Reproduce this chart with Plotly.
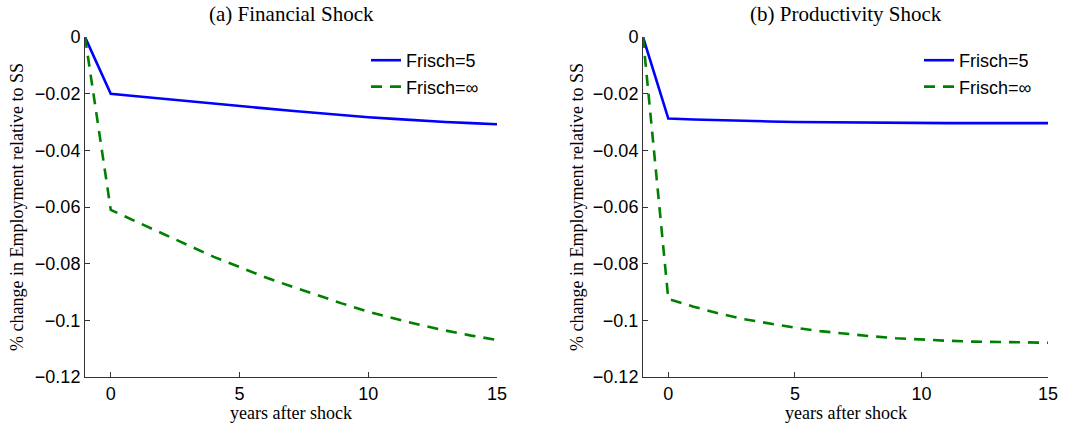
import plotly.graph_objects as go

years = list(range(-1, 16))

fin_frisch5 = [0, -0.0200, -0.0209, -0.0218, -0.0227, -0.0236, -0.0244, -0.0252, -0.0260,
               -0.0268, -0.0276, -0.0283, -0.0289, -0.0295, -0.0300, -0.0304, -0.0308]
fin_frisch_inf = [0, -0.0610, -0.0652, -0.0694, -0.0736, -0.0776, -0.0812, -0.0848, -0.0880,
                  -0.0911, -0.0941, -0.0970, -0.0994, -0.1016, -0.1036, -0.1054, -0.1069]
prod_frisch5 = [0, -0.0288, -0.0291, -0.0294, -0.0296, -0.0298, -0.0300, -0.0301, -0.0302,
                -0.0303, -0.0303, -0.0304, -0.0304, -0.0304, -0.0304, -0.0304, -0.0304]
prod_frisch_inf = [0, -0.0925, -0.0952, -0.0976, -0.0996, -0.1012, -0.1026, -0.1038, -0.1048,
                   -0.1056, -0.1063, -0.1068, -0.1072, -0.1075, -0.1077, -0.1078, -0.1079]

series_names = ["Frisch=5", "Frisch=∞"]
titles = ["(a) Financial Shock", "(b) Productivity Shock"]
ytick_vals = [0, -0.02, -0.04, -0.06, -0.08, -0.1, -0.12]
ytick_text = ["0", "−0.02", "−0.04", "−0.06", "−0.08", "−0.1", "−0.12"]
xtick_vals = [0, 5, 10, 15]
ylabel = "% change in Employment relative to SS"
xlabel = "years after shock"

BLUE = "#0000ff"
GREEN = "#008000"
SERIF = "Liberation Serif, Times New Roman, serif"
SANS = "Liberation Sans, Arial, sans-serif"

fig = go.Figure()

panels = [(fin_frisch5, fin_frisch_inf, "x", "y", "legend"),
          (prod_frisch5, prod_frisch_inf, "x2", "y2", "legend2")]
for s5, sinf, xa, ya, lg in panels:
    fig.add_trace(go.Scatter(x=years, y=s5, mode="lines", name=series_names[0],
                             line=dict(color=BLUE, width=2.6), xaxis=xa, yaxis=ya, legend=lg))
    fig.add_trace(go.Scatter(x=years, y=sinf, mode="lines", name=series_names[1],
                             line=dict(color=GREEN, width=2.6, dash="11px,8px"),
                             xaxis=xa, yaxis=ya, legend=lg))

W, H = 1088, 427
doms_x = [(85 / W, 497 / W), (643 / W, 1048 / W)]
dom_y = (1 - 377 / H, 1 - 37 / H)

axis_common = dict(showline=True, linecolor="#333333", linewidth=1, mirror=False,
                   ticks="inside", ticklen=5, tickcolor="#333333", showgrid=False,
                   zeroline=False, tickfont=dict(family=SANS, size=18, color="#000000"))

layout = dict(width=W, height=H, margin=dict(l=0, r=0, t=0, b=0),
              paper_bgcolor="white", plot_bgcolor="white", showlegend=True)

for i, (dx, key) in enumerate(zip(doms_x, ["", "2"])):
    layout["xaxis" + key] = dict(domain=list(dx), range=[-1, 15], tickvals=xtick_vals,
                                 anchor="y" + key, automargin=False, **axis_common)
    layout["yaxis" + key] = dict(domain=list(dom_y), range=[-0.12, 0], tickvals=ytick_vals,
                                 ticktext=ytick_text, anchor="x" + key, automargin=False,
                                 **axis_common)

fig.update_layout(**layout)

legend_style = dict(bgcolor="rgba(0,0,0,0)", borderwidth=0,
                    font=dict(family=SANS, size=18, color="#000000"),
                    xanchor="left", yanchor="top", tracegroupgap=0)
fig.update_layout(
    legend=dict(x=366 / W, y=1 - 42 / H, **legend_style),
    legend2=dict(x=919 / W, y=1 - 42 / H, **legend_style),
)

annotations = []
for dx, t in zip(doms_x, titles):
    cx = (dx[0] + dx[1]) / 2
    annotations.append(dict(text=t, x=cx, y=1 - 14 / H, xref="paper", yref="paper",
                            showarrow=False, font=dict(family=SERIF, size=21, color="#000"),
                            xanchor="center", yanchor="middle"))
    annotations.append(dict(text=xlabel, x=cx, y=1 - 413 / H, xref="paper", yref="paper",
                            showarrow=False, font=dict(family=SERIF, size=18, color="#000"),
                            xanchor="center", yanchor="middle"))
ylabel_x = [17 / W, 577 / W]
for xx in ylabel_x:
    annotations.append(dict(text=ylabel, x=xx, y=1 - 207 / H, xref="paper",
                            yref="paper", showarrow=False, textangle=-90,
                            font=dict(family=SERIF, size=18, color="#000"),
                            xanchor="center", yanchor="middle"))
fig.update_layout(annotations=annotations)

fig.write_html("out.html", config={"displayModeBar": False},
               post_script="document.body.style.margin='0';")
